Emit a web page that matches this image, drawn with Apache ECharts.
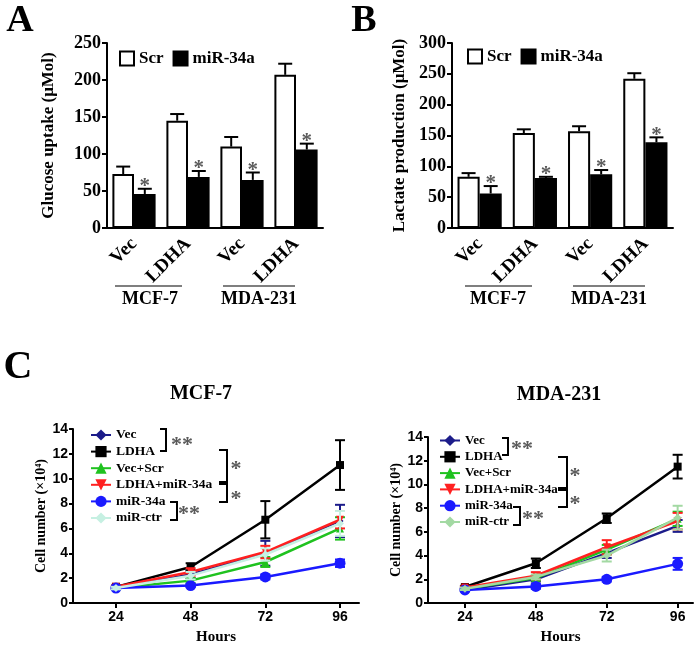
<!DOCTYPE html>
<html><head><meta charset="utf-8">
<script src="https://cdn.jsdelivr.net/npm/echarts@6/dist/echarts.min.js"></script>
<style>html,body{margin:0;padding:0;background:#fff}#c{width:697px;height:646px}</style>
</head><body><div id="c"></div><script>
// ---------- data ----------
const barCats = ['Vec', 'LDHA', 'Vec', 'LDHA'];
const glucoseScr = [73, 145, 110, 207];
const glucoseScrErr = [10, 9, 13, 15];
const glucoseMir = [46, 69, 65, 106];
const glucoseMirErr = [7, 8, 10, 8];
const lactateScr = [83, 154, 157, 242];
const lactateScrErr = [6, 6, 8, 9];
const lactateMir = [56, 81, 87, 139];
const lactateMirErr = [12, 2, 7, 8];
const glucoseTicks = [0, 50, 100, 150, 200, 250];
const lactateTicks = [0, 50, 100, 150, 200, 250, 300];

const hours = [24, 48, 72, 96];
const lineNames = ['Vec', 'LDHA', 'Vec+Scr', 'LDHA+miR-34a', 'miR-34a', 'miR-ctr'];
// MCF-7
const mcfVec = [1.2, 2.3, 4.0, 6.6];        const mcfVecErr = [0.1, 0.3, 1.0, 1.3];
const mcfLdha = [1.3, 2.9, 6.7, 11.1];      const mcfLdhaErr = [0.1, 0.3, 1.5, 2.0];
const mcfVecScr = [1.2, 1.8, 3.3, 6.0];     const mcfVecScrErr = [0.1, 0.2, 0.4, 0.9];
const mcfLdhaMir = [1.3, 2.5, 4.1, 6.7];    const mcfLdhaMirErr = [0.1, 0.3, 0.5, 0.7];
const mcfMir = [1.2, 1.4, 2.1, 3.2];        const mcfMirErr = [0.1, 0.1, 0.2, 0.3];
const mcfMirCtr = [1.2, 2.2, 3.9, 6.4];     const mcfMirCtrErr = [0.1, 0.3, 0.5, 1.0];
// MDA-231
const mdaVec = [1.1, 2.0, 4.2, 6.5];        const mdaVecErr = [0.1, 0.2, 0.4, 0.5];
const mdaLdha = [1.35, 3.35, 7.15, 11.5];   const mdaLdhaErr = [0.1, 0.4, 0.4, 1.0];
const mdaVecScr = [1.2, 2.1, 4.5, 7.1];     const mdaVecScrErr = [0.1, 0.2, 0.4, 0.6];
const mdaLdhaMir = [1.3, 2.3, 4.7, 6.9];    const mdaLdhaMirErr = [0.1, 0.3, 0.6, 0.7];
const mdaMir = [1.1, 1.4, 2.0, 3.3];        const mdaMirErr = [0.1, 0.2, 0.2, 0.5];
const mdaMirCtr = [1.2, 2.2, 4.0, 7.2];     const mdaMirCtrErr = [0.1, 0.2, 0.5, 1.0];
const cellTicks = [0, 2, 4, 6, 8, 10, 12, 14];

// ---------- styles ----------
const SERIF = '"Liberation Serif", "Times New Roman", serif';
const SANS = '"Liberation Sans", Arial, sans-serif';
const starColor = '#5a5a5a';
const lineColors = ['#1c1c8a', '#000000', '#1fc21f', '#ff2020', '#1a1aff'];
const ctrColorL = '#c6f0e2';
const ctrColorR = '#a3d9a3';
const lineSymbols = [['diamond', 7, 0], ['rect', 8, 0], ['triangle', 8, 0], ['triangle', 8, 180], ['circle', 11, 0], ['diamond', 8, 0]];

function barErrSeries(gi, vals, errs, sign, star) {
  return {
    type: 'custom', xAxisIndex: gi, yAxisIndex: gi, z: 5, silent: true,
    data: vals.map((v, i) => [i, v, errs[i]]),
    renderItem: function (params, api) {
      const c = api.coord([api.value(0), api.value(1)]);
      const t = api.coord([api.value(0), api.value(1) + api.value(2)]);
      const band = api.size([1, 0])[0];
      const cx = c[0] + sign * 0.2 * band;
      const hw = 7;
      const ls = { stroke: '#000', lineWidth: 2 };
      const children = [
        { type: 'line', shape: { x1: cx, y1: c[1], x2: cx, y2: t[1] }, style: ls },
        { type: 'line', shape: { x1: cx - hw, y1: t[1], x2: cx + hw, y2: t[1] }, style: ls }
      ];
      if (star) {
        children.push({ type: 'text', x: cx, y: t[1] - 2,
          style: { text: '*', font: 'bold 21px ' + SERIF, fill: starColor,
            align: 'center', verticalAlign: 'middle', textAlign: 'center', textVerticalAlign: 'middle' } });
      }
      return { type: 'group', children: children };
    }
  };
}

function lineSeries(prefix, gi, idx, vals, color) {
  const s = lineSymbols[idx];
  return {
    name: prefix + '|' + lineNames[idx], type: 'line', xAxisIndex: gi, yAxisIndex: gi,
    data: hours.map((h, i) => [h, vals[i]]),
    symbol: s[0], symbolSize: s[1], symbolRotate: s[2],
    lineStyle: { color: color, width: 2.5 }, itemStyle: { color: color },
    z: 3 + idx * 0.1, animation: false
  };
}
function lineErrSeries(gi, idx, vals, errs, color) {
  return {
    type: 'custom', xAxisIndex: gi, yAxisIndex: gi, z: 3 + idx * 0.1, silent: true,
    data: hours.map((h, i) => [h, vals[i], errs[i]]),
    renderItem: function (params, api) {
      const lo = api.coord([api.value(0), api.value(1) - api.value(2)]);
      const hi = api.coord([api.value(0), api.value(1) + api.value(2)]);
      const hw = 5;
      const ls = { stroke: color, lineWidth: 2 };
      return { type: 'group', children: [
        { type: 'line', shape: { x1: lo[0], y1: lo[1], x2: hi[0], y2: hi[1] }, style: ls },
        { type: 'line', shape: { x1: hi[0] - hw, y1: hi[1], x2: hi[0] + hw, y2: hi[1] }, style: ls },
        { type: 'line', shape: { x1: lo[0] - hw, y1: lo[1], x2: lo[0] + hw, y2: lo[1] }, style: ls }
      ] };
    }
  };
}

const mcfSets = [[mcfVec, mcfVecErr], [mcfLdha, mcfLdhaErr], [mcfVecScr, mcfVecScrErr], [mcfLdhaMir, mcfLdhaMirErr], [mcfMir, mcfMirErr], [mcfMirCtr, mcfMirCtrErr]];
const mdaSets = [[mdaVec, mdaVecErr], [mdaLdha, mdaLdhaErr], [mdaVecScr, mdaVecScrErr], [mdaLdhaMir, mdaLdhaMirErr], [mdaMir, mdaMirErr], [mdaMirCtr, mdaMirCtrErr]];

const series = [];
// bar panels
[[glucoseScr, glucoseScrErr, glucoseMir, glucoseMirErr], [lactateScr, lactateScrErr, lactateMir, lactateMirErr]].forEach((d, gi) => {
  series.push({ name: 'Scr', type: 'bar', xAxisIndex: gi, yAxisIndex: gi, data: d[0], barGap: '0%', barCategoryGap: '20%',
    itemStyle: { color: '#ffffff', borderColor: '#000', borderWidth: 2 } });
  series.push({ name: 'miR-34a', type: 'bar', xAxisIndex: gi, yAxisIndex: gi, data: d[2], barGap: '0%', barCategoryGap: '20%',
    itemStyle: { color: '#000000', borderColor: '#000', borderWidth: 2 } });
  series.push(barErrSeries(gi, d[0], d[1], -1, false));
  series.push(barErrSeries(gi, d[2], d[3], 1, true));
});
// line panels
[[mcfSets, 'L', 2, ctrColorL], [mdaSets, 'R', 3, ctrColorR]].forEach(([sets, prefix, gi, ctr]) => {
  sets.forEach((s, idx) => {
    const color = idx === 5 ? ctr : lineColors[idx];
    series.push(lineErrSeries(gi, idx, s[0], s[1], color));
    series.push(lineSeries(prefix, gi, idx, s[0], color));
  });
});

const axisLineStyle = { lineStyle: { color: '#000', width: 2 } };
function barX(gi) {
  return { type: 'category', gridIndex: gi, data: barCats, axisLine: axisLineStyle, axisTick: { show: false },
    axisLabel: { rotate: 45, interval: 0, margin: 13, color: '#000', fontFamily: SERIF, fontWeight: 'bold', fontSize: 19 } };
}
function barY(gi, max, name, gap) {
  return { type: 'value', gridIndex: gi, min: 0, max: max, interval: 50, name: name, nameLocation: 'middle', nameGap: gap,
    nameTextStyle: { color: '#000', fontFamily: SERIF, fontWeight: 'bold', fontSize: 17 },
    axisLine: { show: true, lineStyle: { color: '#000', width: 2 } }, axisTick: { show: true, length: 5, lineStyle: { width: 2, color: '#000' } },
    splitLine: { show: false },
    axisLabel: { margin: 6, color: '#000', fontFamily: SERIF, fontWeight: 'bold', fontSize: 18 } };
}
function lineX(gi, min, max) {
  return { type: 'value', gridIndex: gi, min: min, max: max, name: 'Hours', nameLocation: 'middle', nameGap: 27,
    nameTextStyle: { color: '#000', fontFamily: SERIF, fontWeight: 'bold', fontSize: 15 },
    axisLine: { show: true, lineStyle: { color: '#000', width: 2 } },
    axisTick: { show: true, length: 5, lineStyle: { width: 2, color: '#000' }, customValues: hours },
    splitLine: { show: false },
    axisLabel: { margin: 7, color: '#000', fontFamily: SANS, fontWeight: 'bold', fontSize: 14, customValues: hours } };
}
function lineY(gi) {
  return { type: 'value', gridIndex: gi, min: 0, max: 14, interval: 2, name: 'Cell number (×10\u2074)', nameLocation: 'middle', nameGap: 19,
    nameTextStyle: { color: '#000', fontFamily: SERIF, fontWeight: 'bold', fontSize: 14 },
    axisLine: { show: true, lineStyle: { color: '#000', width: 2 } }, axisTick: { show: true, length: 4, lineStyle: { width: 2, color: '#000' } },
    splitLine: { show: false },
    axisLabel: { margin: 5, color: '#000', fontFamily: SANS, fontWeight: 'bold', fontSize: 14 } };
}

function txt(x, y, text, size, color, family) {
  return { type: 'text', x: x, y: y, silent: true,
    style: { text: text, font: 'bold ' + size + 'px ' + (family || SERIF), fill: color || '#000',
      align: 'center', verticalAlign: 'middle', textAlign: 'center', textVerticalAlign: 'middle' } };
}
function hline(x1, x2, y) {
  return { type: 'line', silent: true, shape: { x1: x1, y1: y, x2: x2, y2: y }, style: { stroke: '#555', lineWidth: 1.5 } };
}
function bracket(x1, x2, y1, y2) {
  return { type: 'polyline', silent: true, shape: { points: [[x1, y1], [x2, y1], [x2, y2], [x1, y2]] }, style: { stroke: '#000', lineWidth: 2, fill: null } };
}

const graphics = [
  txt(20, 21, 'A', 38), txt(364, 21, 'B', 38), txt(18, 368, 'C', 40),
  hline(115, 182, 286), txt(150, 299, 'MCF-7', 18), hline(223, 295, 286), txt(259, 299, 'MDA-231', 18),
  hline(465, 532, 286), txt(498, 299, 'MCF-7', 18), hline(573, 645, 286), txt(609, 299, 'MDA-231', 18),
  txt(201, 394, 'MCF-7', 20), txt(559, 395, 'MDA-231', 20),
  bracket(160, 166, 429, 451), txt(182, 445, '**', 22, starColor),
  bracket(219, 227, 450, 482), txt(236, 469, '*', 22, starColor),
  bracket(219, 227, 484, 502), txt(236, 499, '*', 22, starColor),
  bracket(170, 177, 502, 520), txt(189, 514, '**', 22, starColor),
  bracket(502, 508, 438, 455), txt(522, 449, '**', 22, starColor),
  bracket(558, 567, 457, 488), txt(575, 476, '*', 22, starColor),
  bracket(558, 567, 490, 507), txt(575, 504, '*', 22, starColor),
  bracket(513, 520, 507, 525), txt(533, 519, '**', 22, starColor)
];

const barLegendText = { color: '#000', fontFamily: SERIF, fontWeight: 'bold', fontSize: 17 };
const lineLegendText = { color: '#000', fontFamily: SERIF, fontWeight: 'bold', fontSize: 13.5 };

const option = {
  animation: false,
  backgroundColor: '#fff',
  grid: [
    { left: 107, right: 374, top: 43, bottom: 418 },
    { left: 452, right: 24, top: 43, bottom: 418 },
    { left: 73, right: 338, top: 429, bottom: 43 },
    { left: 428, right: 4, top: 437, bottom: 43 }
  ],
  xAxis: [barX(0), barX(1), lineX(2, 10.2, 102.1), lineX(3, 11.5, 101.2)],
  yAxis: [barY(0, 250, 'Glucose uptake (μMol)', 50), barY(1, 300, 'Lactate production (μMol)', 44), lineY(2), lineY(3)],
  legend: [
    { data: ['Scr', 'miR-34a'], left: 114, top: 45, itemWidth: 14, itemHeight: 14, itemGap: 9, icon: 'rect', textStyle: barLegendText, selectedMode: false },
    { data: ['Scr', 'miR-34a'], left: 462, top: 43, itemWidth: 14, itemHeight: 14, itemGap: 9, icon: 'rect', textStyle: barLegendText, selectedMode: false },
    { data: lineNames.map(n => 'L|' + n), formatter: n => n.split('|')[1], orient: 'vertical', left: 85, top: 423,
      itemWidth: 20, itemHeight: 14, itemGap: 2.6, textStyle: lineLegendText, selectedMode: false },
    { data: lineNames.map(n => 'R|' + n), formatter: n => n.split('|')[1], orient: 'vertical', left: 434, top: 429,
      itemWidth: 20, itemHeight: 14, itemGap: 3.3, textStyle: Object.assign({}, lineLegendText, { fontSize: 13 }), selectedMode: false }
  ],
  graphic: graphics,
  series: series
};
const chart = echarts.init(document.getElementById('c'), null, { renderer: 'canvas' });
chart.setOption(option);
</script></body></html>
